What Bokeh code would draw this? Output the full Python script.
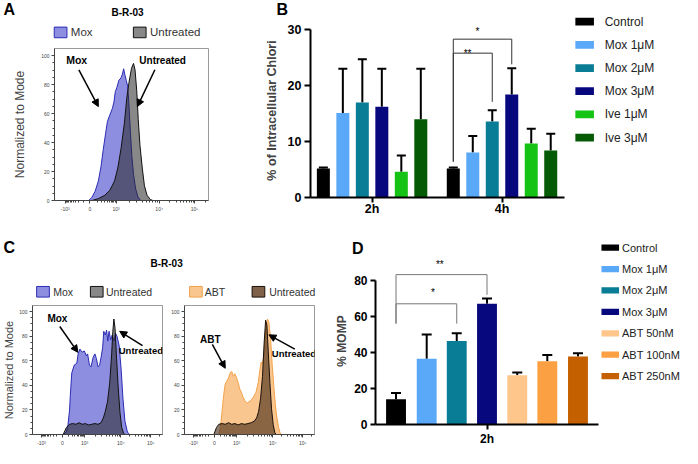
import numpy as np
from bokeh.plotting import figure
from bokeh.models import (Range1d, FixedTicker, Label, Arrow, NormalHead, Whisker, TeeHead,
                          ColumnDataSource)
from bokeh.layouts import row, column
from bokeh.embed import file_html
from bokeh.resources import INLINE

# ======================= DATA =======================
# Flow histograms: x in biexponential display units (0-100), y = % of mode
a_mox_x = [22.2, 24.2, 26.4, 28.5, 30.2, 31.6, 33.1, 34.4, 35.9, 37.6, 38.6, 39.5, 40.5, 41.8,
           43.2, 44.1, 44.9, 45.8, 46.6, 47.5, 48.3, 49.2, 50.2, 51.3, 52.7, 54.2, 55.9]
a_mox_y = [0, 2, 6.4, 13.5, 23.5, 34.7, 45.8, 54.7, 59, 63.6, 68, 75.3, 78, 83,
           84.7, 87.3, 91, 86.4, 83, 79, 67, 49, 31, 18, 8, 2.4, 0]
a_unt_x = [24.3, 28.5, 32.7, 35.9, 39.0, 41.1, 43.2, 45.4, 47.0, 48.5, 50.0, 51.3, 52.3, 53.4,
           54.4, 55.5, 57.0, 58.4, 60.1, 62.2, 63.9]
a_unt_y = [0, 1.3, 3.6, 7, 13.5, 22.4, 35.8, 53.6, 71.3, 82.4, 91.3, 94.7, 90.2, 75.8,
           55.8, 38, 22.4, 10.2, 3.6, 0.7, 0]

cl_mox_x = [23.6, 26.1, 27.3, 28.5, 29.1, 30.2, 32.1, 34.1, 35.1, 36.5, 38.2, 39.9, 41.4, 42.4,
            43.8, 45.0, 46.7, 48.0, 49.2, 50.4, 51.6, 52.8, 54.0, 54.8, 56.0, 57.0, 57.9, 58.9,
            60.1, 61.3, 62.6, 63.8, 65.0, 66.7, 68.2, 69.6, 71.1, 73.0, 74.7]
cl_mox_y = [0, 2, 8, 20, 32, 50, 56.5, 58, 65.6, 69.5, 67, 68, 64, 65.6,
            56.5, 55, 63, 65.6, 61.7, 55, 56.5, 63, 71, 84, 81, 85, 76, 84,
            77, 81, 76, 82.5, 80, 72, 52.6, 29, 11, 2, 0]
cl_unt_x = [23.6, 26.1, 28.5, 30.9, 33.4, 35.8, 38.2, 40.7, 43.1, 45.5, 48.0, 50.4, 52.8, 54.5,
            56.0, 57.7, 59.4, 60.9, 61.8, 62.6, 63.5, 64.5, 65.7, 67.2, 68.6, 70.1, 71.1]
cl_unt_y = [0, 5.7, 8.3, 8.9, 8.3, 9.6, 8.3, 8.9, 7.8, 8.3, 8.9, 8.3, 9.6, 13.5,
            18.8, 26.6, 42, 65.6, 84, 94, 86.5, 65.6, 42, 18.8, 5.7, 1, 0]

cr_abt_x = [26.4, 27.6, 28.9, 30.1, 31.3, 32.6, 33.8, 35.1, 36.3, 37.6, 38.8, 40.1, 41.3, 42.5,
            43.8, 45.0, 46.3, 48.0, 49.5, 51.3, 53.0, 55.0, 56.7, 58.0, 59.0, 59.9, 61.2, 62.4,
            63.7, 64.9, 66.2, 67.4, 68.7, 69.9, 71.1, 72.4, 73.6, 74.9]
cr_abt_y = [0, 5.7, 18.8, 31.8, 41, 43.5, 46, 50, 51.3, 47.4, 49.5, 46, 42.2, 37,
            34.4, 30.5, 27.9, 25.3, 26.6, 27.9, 30.5, 34.4, 42.2, 52.6, 59, 57.3, 65.6, 84,
            94, 91.7, 78.6, 57.8, 39.6, 24, 13.5, 5.7, 1, 0]
cr_unt_x = [22.6, 24.6, 26.4, 28.9, 31.3, 33.8, 36.3, 38.8, 41.3, 43.8, 46.3, 48.8, 51.3, 53.7,
            55.5, 57.0, 58.5, 60.0, 61.2, 62.4, 63.4, 64.4, 65.7, 66.9, 68.2, 69.4, 70.4]
cr_unt_y = [0, 5.7, 8.3, 8.9, 8.3, 9.6, 8.3, 8.9, 7.8, 8.9, 8.3, 8.9, 9.6, 10.9,
            13.5, 18.8, 29.2, 47.4, 73.4, 93, 89, 68.2, 42.2, 21.4, 8.3, 1.8, 0]

hist_tick_pos = [7, 23, 40, 68, 91]
hist_tick_labels = ["-10³", "0", "10³", "10⁴", "10⁵"]
hist_title = "B-R-03"
mox_series = ["Mox", "Untreated"]
abt_series = ["ABT", "Untreated"]

# Panel B: % of intracellular Chlori
b_groups = ["2h", "4h"]
b_treatments = ["Control", "Mox 1μM", "Mox 2μM", "Mox 3μM", "Ive 1μM", "Ive 3μM"]
b_mean_2h = [5.2, 15.1, 17.0, 16.2, 4.6, 14.0]
b_sd_2h = [0.15, 7.9, 7.7, 6.8, 2.9, 9.0]
b_mean_4h = [5.2, 8.05, 13.6, 18.4, 9.65, 8.4]
b_sd_4h = [0.15, 2.95, 2.0, 4.7, 2.65, 3.0]
b_colors = ["#000000", "#5aa8f8", "#0a7d96", "#08087e", "#14c314", "#055a05"]
# (group, from-bar, to-bar, bracket top, left leg end, right leg end, stars, star x, star y)
b_brackets = [("4h", 0, 2, 25.8, 6.4, 17.1, "**", 0.735, 25.8),
              ("4h", 0, 3, 28.3, 6.4, 23.8, "*", 0.81, 29.6)]

# Panel D: % MOMP
d_group = "2h"
d_treatments = ["Control", "Mox 1μM", "Mox 2μM", "Mox 3μM", "ABT 50nM", "ABT 100nM", "ABT 250nM"]
d_mean = [14.0, 36.5, 46.4, 67.0, 27.4, 35.1, 37.7]
d_sd = [3.5, 13.5, 4.2, 3.0, 1.4, 3.5, 1.8]
d_colors = ["#000000", "#5aa8f8", "#0a7d96", "#08087e", "#ffc68c", "#fca044", "#c46000"]
d_brackets = [(0, 3, 83.2, 56, 72, "**", -0.223, 88.7),
              (0, 2, 67.0, 56, 56, "*", -0.255, 73.4)]

# ======================= STYLE / LAYOUT =======================
FONT = "Liberation Sans"
SX = 682 / 698
SY = 448 / 464


class Geo:
    """maps reference-pixel positions into a figure's data coordinates"""
    def __init__(self, frame, xr, yr):
        self.f, self.xr, self.yr = frame, xr, yr

    def x(self, px):
        f0, _, f1, _ = self.f
        return self.xr[0] + (px - f0) / (f1 - f0) * (self.xr[1] - self.xr[0])

    def y(self, py):
        _, g0, _, g1 = self.f
        return self.yr[0] + (g1 - py) / (g1 - g0) * (self.yr[1] - self.yr[0])


def no_align(p):
    try:
        p.frame_align = False
    except Exception:
        pass
    return p


def base_fig(W, H, L, R, T, B, xr, yr):
    p = figure(width=W, height=H, x_range=Range1d(*xr), y_range=Range1d(*yr),
               output_backend="svg", toolbar_location=None,
               min_border_left=L, min_border_right=R, min_border_top=T, min_border_bottom=B)
    p.grid.visible = False
    p.outline_line_color = None
    p.background_fill_color = "white"
    p.border_fill_color = "white"
    return no_align(p)


def blank_fig(W, H):
    p = figure(width=W, height=H, x_range=Range1d(0, W), y_range=Range1d(0, H),
               x_axis_type=None, y_axis_type=None, output_backend="svg",
               toolbar_location=None, min_border=0)
    p.outline_line_color = None
    p.background_fill_color = "white"
    p.border_fill_color = "white"
    return no_align(p)


class Box:
    """a blank panel whose data coords are its own pixels; positions given in reference px"""
    def __init__(self, p, rx0, ry1):
        self.p, self.rx0, self.ry1 = p, rx0, ry1

    def x(self, rx):
        return (rx - self.rx0) * SX

    def y(self, ry):
        return (self.ry1 - ry) * SY


def label(p, x, y, text, size, bold=False, color="black", align="left", baseline="middle"):
    p.add_layout(Label(x=x, y=y, text=text, text_font=FONT, text_font_size=size,
                       text_font_style="bold" if bold else "normal", text_color=color,
                       text_align=align, text_baseline=baseline))


def arrow(p, g, x0, y0, x1, y1):
    p.add_layout(Arrow(end=NormalHead(size=7, fill_color="black", line_color="black", line_width=1),
                       x_start=g.x(x0), y_start=g.y(y0), x_end=g.x(x1), y_end=g.y(y1),
                       line_width=1.5, line_color="black"))


def swatch(bx, rcx, rcy, rw, rh, fill, line=None, alpha=1.0):
    bx.p.rect(x=[bx.x(rcx)], y=[bx.y(rcy)], width=rw * SX, height=rh * SY,
              fill_color=fill, fill_alpha=alpha, line_color=line, line_width=1)


minor = []
for k in range(1, 10):
    minor.append(23 + 17 * np.log10(1 + 0.9 * k))
    minor.append(23 - 16 * np.log10(1 + 0.9 * k))
for k in range(2, 10):
    minor.append(40 + 28 * np.log10(k))
    minor.append(68 + 23 * np.log10(k))
minor.append(91 + 23 * np.log10(2))
minor = sorted(float(m) for m in minor)

HXR = (0, 100)
HYR = (0, 105)

MOX_FILL, MOX_LINE = "#8e8ee0", "#2b2bb5"
UNT_FILL, UNT_LINE = "#262626", "#111111"
ABT_FILL, ABT_LINE = "#fac690", "#f2a24a"
UNTB_FILL, UNTB_LINE = "#3d2512", "#1a1008"
UNTB_SWATCH = "#7f6048"


def hist_fig(W, H, L, R, T, B, curves, ylabel=None, ylabel_size="12px", ylabel_standoff=10):
    p = base_fig(W, H, L, R, T, B, HXR, HYR)
    p.outline_line_color = "#9a9a9a"
    for xs, ys, fill, alpha, line in curves:
        p.patch(xs, ys, fill_color=fill, fill_alpha=alpha, line_color=line, line_width=1)
    xa, ya = p.xaxis[0], p.yaxis[0]
    xa.ticker = FixedTicker(ticks=hist_tick_pos, minor_ticks=minor)
    xa.major_label_overrides = dict(zip(hist_tick_pos, hist_tick_labels))
    ya.ticker = FixedTicker(ticks=[0, 20, 40, 60, 80, 100],
                            minor_ticks=[v for v in range(0, 101, 5) if v % 20])
    for ax in (xa, ya):
        ax.axis_line_color = "#444"
        ax.major_tick_line_color = "#444"
        ax.minor_tick_line_color = "#444"
        ax.major_tick_out = 3
        ax.major_tick_in = 0
        ax.minor_tick_out = 2
        ax.minor_tick_in = 0
        ax.major_label_text_font = FONT
        ax.major_label_text_font_size = "5px"
        ax.major_label_text_color = "#444"
        ax.major_label_standoff = 2
    if ylabel:
        ya.axis_label = ylabel
        ya.axis_label_text_font = FONT
        ya.axis_label_text_font_size = ylabel_size
        ya.axis_label_text_font_style = "normal"
        ya.axis_label_text_color = "#444"
        ya.axis_label_standoff = ylabel_standoff
    return p


def bar_axes(p, xticks, xlabels, yticks, ybounds, ylabel, tick_out, size):
    xa, ya = p.xaxis[0], p.yaxis[0]
    xa.ticker = FixedTicker(ticks=xticks)
    xa.major_label_overrides = dict(zip(xticks, xlabels))
    ya.ticker = FixedTicker(ticks=yticks)
    ya.bounds = ybounds
    for ax in (xa, ya):
        ax.axis_line_width = 2
        ax.axis_line_color = "black"
        ax.major_tick_line_width = 2
        ax.major_tick_line_color = "black"
        ax.minor_tick_line_color = None
        ax.major_tick_in = 0
        ax.major_tick_out = tick_out
        ax.major_label_standoff = 3
        ax.major_label_text_font = FONT
        ax.major_label_text_font_style = "bold"
        ax.major_label_text_font_size = size
        ax.major_label_text_color = "black"
    ya.axis_label = ylabel
    ya.axis_label_text_font = FONT
    ya.axis_label_text_font_style = "bold"
    ya.axis_label_text_font_size = size
    return xa, ya


# ---------------- Panel A ----------------
hA = blank_fig(232, 44)
bA = Box(hA, 0, 46)
label(hA, bA.x(3), bA.y(10), "A", "16px", bold=True)
label(hA, bA.x(130), bA.y(13), hist_title, "10px", bold=True, align="center")
swatch(bA, 61.5, 33.5, 13, 11, MOX_FILL, MOX_LINE)
label(hA, bA.x(72), bA.y(33.5), mox_series[0], "11.5px", color="#333333")
swatch(bA, 142.5, 33.5, 13, 11, UNT_FILL, UNT_LINE, 0.55)
label(hA, bA.x(153), bA.y(33.5), mox_series[1], "11.5px", color="#333333")

pa = hist_fig(232, 178, 54, 24, 4, 22,
              [(a_mox_x, a_mox_y, MOX_FILL, 1.0, MOX_LINE),
               (a_unt_x, a_unt_y, UNT_FILL, 0.55, UNT_LINE)],
              ylabel="Normalized to Mode", ylabel_size="12px", ylabel_standoff=11)
gA = Geo((55, 50, 213, 207), HXR, HYR)
label(pa, gA.x(67), gA.y(62), "Mox", "10.5px", bold=True)
label(pa, gA.x(142), gA.y(62), "Untreated", "10px", bold=True)
arrow(pa, gA, 80, 72, 100, 110)
arrow(pa, gA, 158, 72, 140, 110)

# ---------------- Panel B ----------------
hB = blank_fig(337, 23)
bB = Box(hB, 238, 24)
label(hB, bB.x(283), bB.y(10), "B", "16px", bold=True)

b_offsets = [-0.375, -0.225, -0.075, 0.075, 0.225, 0.375]
BXR, BYR = (-0.474, 1.481), (0, 31.1)
pb = base_fig(337, 199, 78, 5, 0, 25, BXR, BYR)
b_group_x = list(range(len(b_groups)))
for ti, name in enumerate(b_treatments):
    tops = [b_mean_2h[ti], b_mean_4h[ti]]
    sds = [b_sd_2h[ti], b_sd_4h[ti]]
    src = ColumnDataSource(dict(x=[g + b_offsets[ti] for g in b_group_x], top=tops,
                                upper=[t + s for t, s in zip(tops, sds)]))
    pb.vbar(x="x", top="top", bottom=0, width=0.1, fill_color=b_colors[ti],
            line_color=None, source=src)
    pb.add_layout(Whisker(base="x", lower="top", upper="upper", source=src, dimension="height",
                          line_width=2, line_color="black", lower_head=None,
                          upper_head=TeeHead(size=9, line_width=2, line_color="black")))
for grp, i0, i1, top, lb, rb, stars, sx_, sy_ in b_brackets:
    g = b_groups.index(grp)
    x0, x1 = g + b_offsets[i0], g + b_offsets[i1]
    pb.line([x0, x0, x1, x1], [lb, top, top, rb], line_color="#333333", line_width=1)
    label(pb, sx_, sy_, stars, "10px", color="black", align="center")
xa, ya = bar_axes(pb, b_group_x, b_groups, [0, 10, 20, 30], (0, 30),
                  "% of Intracellular Chlori", 6, "12.5px")
xa.major_tick_out = 5
xa.major_label_standoff = -1
ya.axis_label_standoff = 6

lB = blank_fig(113, 222)
bLB = Box(lB, 582, 230)
for i, (name, col) in enumerate(zip(b_treatments, b_colors)):
    cy = 22 + 24 * i
    swatch(bLB, 597.5, cy, 19, 8, col)
    label(lB, bLB.x(618), bLB.y(cy), name, "12px", color="#222222")

# ---------------- Panel C ----------------
hC = blank_fig(332, 77)
bC = Box(hC, 0, 310)
label(hC, bC.x(3), bC.y(256.5), "C", "16px", bold=True)
label(hC, bC.x(170), bC.y(272.5), hist_title, "10px", bold=True, align="center")
swatch(bC, 43.5, 302, 13, 11, MOX_FILL, MOX_LINE)
label(hC, bC.x(54), bC.y(302), mox_series[0], "10.5px", color="#333333")
swatch(bC, 98.5, 302, 13, 11, UNT_FILL, UNT_LINE, 0.55)
label(hC, bC.x(108), bC.y(302), mox_series[1], "10.5px", color="#333333")
swatch(bC, 200, 302, 13, 11, ABT_FILL, ABT_LINE)
label(hC, bC.x(209), bC.y(302), abt_series[0], "10.5px", color="#333333")
swatch(bC, 264, 302, 13, 11, UNTB_SWATCH, UNTB_LINE)
label(hC, bC.x(275), bC.y(302), abt_series[1], "10.5px", color="#333333")

pcl = hist_fig(167, 149, 29, 5, 6, 13,
               [(cl_mox_x, cl_mox_y, MOX_FILL, 1.0, MOX_LINE),
                (cl_unt_x, cl_unt_y, UNT_FILL, 0.55, UNT_LINE)],
               ylabel="Normalized to Mode", ylabel_size="11px", ylabel_standoff=1)
gCL = Geo((29.3, 316, 166, 451), HXR, HYR)
label(pcl, gCL.x(45), gCL.y(329.5), "Mox", "10px", bold=True)
label(pcl, gCL.x(120), gCL.y(363.5), "Untreated", "9.5px", bold=True)
arrow(pcl, gCL, 58, 338, 77, 365)
arrow(pcl, gCL, 145, 358, 121, 343)

pcr = hist_fig(165, 149, 17, 18, 6, 13,
               [(cr_abt_x, cr_abt_y, ABT_FILL, 1.0, ABT_LINE),
                (cr_unt_x, cr_unt_y, UNTB_FILL, 0.6, UNTB_LINE)])
gCR = Geo((188, 316, 322, 451), HXR, HYR)
label(pcr, gCR.x(204), gCR.y(351.5), "ABT", "10px", bold=True)
label(pcr, gCR.x(278), gCR.y(366.5), "Untreated", "9.5px", bold=True)
arrow(pcr, gCR, 216.7, 356.7, 230, 381.7)
arrow(pcr, gCR, 301.7, 361.7, 275, 346.7)

# ---------------- Panel D ----------------
hD = blank_fig(268, 35)
bD = Box(hD, 340, 266)
label(hD, bD.x(360), bD.y(257), "D", "16px", bold=True)

d_offsets = [-0.43, -0.285, -0.143, 0.0, 0.143, 0.285, 0.43]
DXR, DYR = (-0.527, 0.527), (0, 92.7)
pd_ = base_fig(268, 191, 39, 2, 0, 21, DXR, DYR)
for ti, name in enumerate(d_treatments):
    src = ColumnDataSource(dict(x=[d_offsets[ti]], top=[d_mean[ti]],
                                upper=[d_mean[ti] + d_sd[ti]]))
    pd_.vbar(x="x", top="top", bottom=0, width=0.094, fill_color=d_colors[ti],
             line_color=None, source=src)
    pd_.add_layout(Whisker(base="x", lower="top", upper="upper", source=src, dimension="height",
                           line_width=2, line_color="black", lower_head=None,
                           upper_head=TeeHead(size=10, line_width=2, line_color="black")))
for i0, i1, top, lb, rb, stars, sx_, sy_ in d_brackets:
    x0, x1 = d_offsets[i0], d_offsets[i1]
    pd_.line([x0, x0, x1, x1], [lb, top, top, rb], line_color="#777777", line_width=1)
    label(pd_, sx_, sy_, stars, "10px", color="black", align="center")
xa, ya = bar_axes(pd_, [0], [d_group], [0, 20, 40, 60, 80], (0, 80), "% MOMP", 5, "12px")
xa.major_tick_out = 5
xa.major_label_standoff = 2
ya.axis_label_standoff = 2

lD = blank_fig(82, 226)
bLD = Box(lD, 614, 464)
for i, (name, col) in enumerate(zip(d_treatments, d_colors)):
    cy = 256 + 22.17 * i
    swatch(bLD, 624, cy, 18, 6.5, col)
    label(lD, bLD.x(636), bLD.y(cy), name, "11px", color="#222222")

layout = column(
    row(column(hA, pa), column(hB, pb), lB),
    row(column(hC, row(pcl, pcr)), column(hD, pd_), lD),
)
open("out.html", "w").write(file_html(layout, INLINE))
